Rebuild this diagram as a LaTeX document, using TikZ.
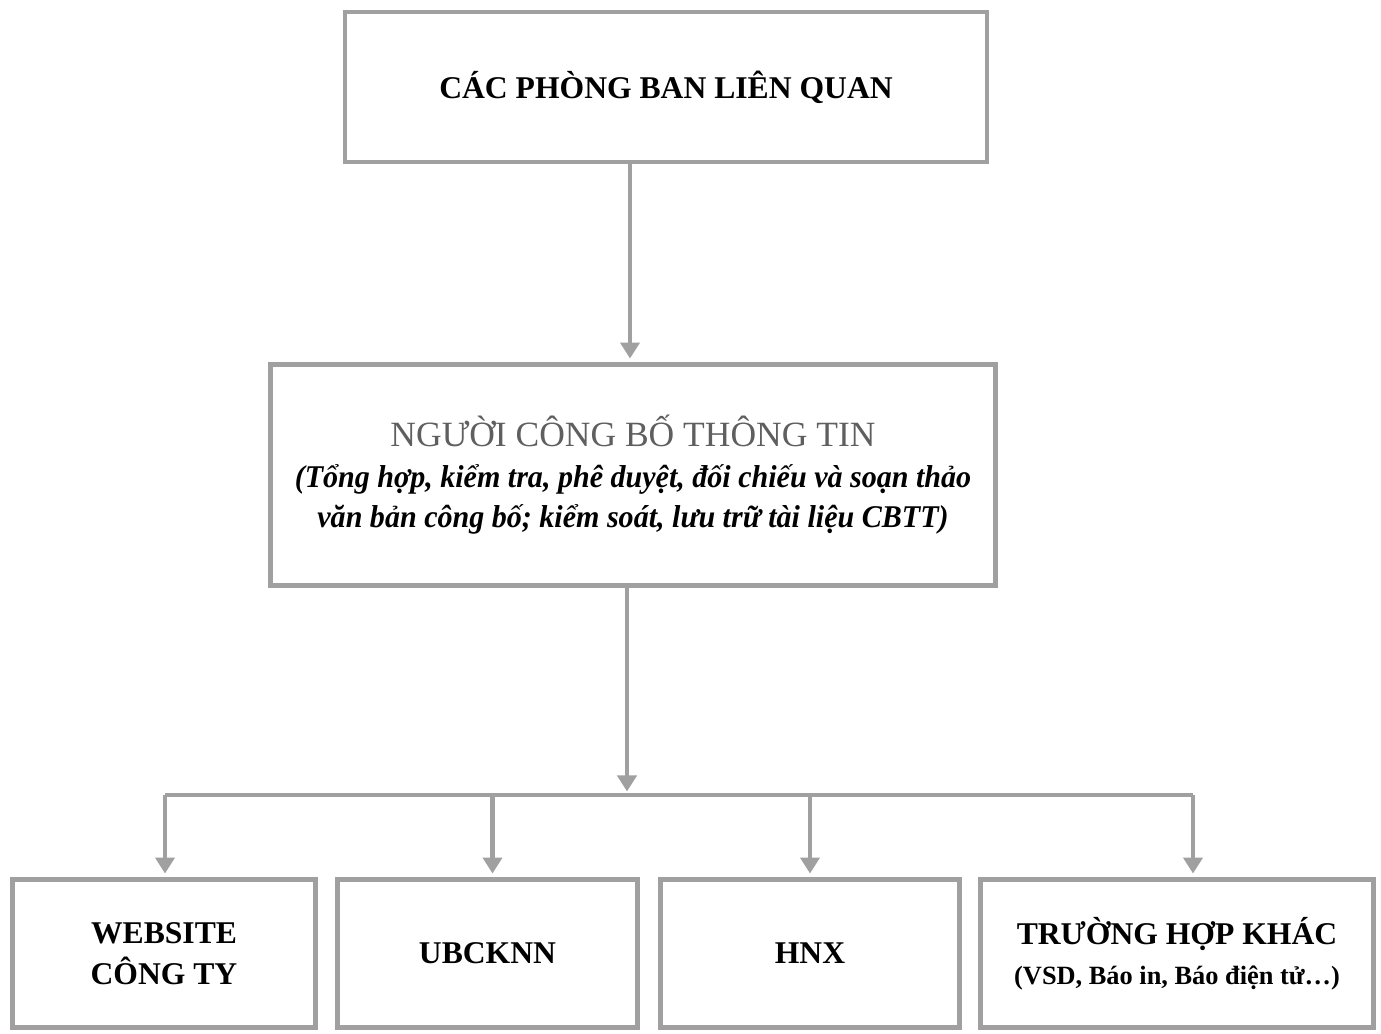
\documentclass[tikz,border=0pt]{standalone}
\usepackage{fontspec}
\setmainfont{Liberation Serif}
\newfontfamily\narrowserif[FakeStretch=0.95]{Liberation Serif}
\usetikzlibrary{arrows.meta,positioning}

\definecolor{linegray}{RGB}{160,160,160}
\definecolor{headgray}{RGB}{95,95,95}

\tikzset{
  box/.style={draw=linegray, line width=2.8pt, fill=white, align=center,
    inner sep=2pt, font=\fontsize{18}{23}\selectfont\bfseries},
  arr/.style={draw=linegray, line width=2.8pt,
    -{Triangle[width=0.38cm,length=0.32cm]}, shorten >=2pt},
  bus/.style={draw=linegray, line width=2.8pt}
}

\begin{document}
\begin{tikzpicture}

\useasboundingbox (0,0) rectangle (27.62,-20.68);

\node[box, minimum width=12.84cm, minimum height=3.0cm] (phongban) at (13.32,-1.74) {CÁC PHÒNG BAN LIÊN QUAN};

\node[box, minimum width=14.5cm, minimum height=4.42cm, font=\fontsize{18}{23}\selectfont] (nguoicbtt) at (12.66,-9.5)
  {{\fontsize{20.2}{23}\selectfont\textcolor{headgray}{NGƯỜI CÔNG BỐ THÔNG TIN}}\\
   {\narrowserif\bfseries\itshape (Tổng hợp, kiểm tra, phê duyệt, đối chiếu và soạn thảo}\\
   {\narrowserif\bfseries\itshape văn bản công bố; kiểm soát, lưu trữ tài liệu CBTT)}};

\node[box, minimum width=6.06cm, minimum height=2.96cm] (website) at (3.28,-19.07) {WEBSITE\\CÔNG TY};
\node[box, minimum width=6.0cm, minimum height=2.96cm] (ubck) at (9.75,-19.07) {UBCKNN};
\node[box, minimum width=5.98cm, minimum height=2.96cm] (hnx) at (16.2,-19.07) {HNX};
\node[box, minimum width=7.86cm, minimum height=2.96cm] (khac) at (23.54,-19.07)
  {TRƯỜNG HỢP KHÁC\\{\fontsize{15}{19}\selectfont (VSD, Báo in, Báo điện tử\ldots)}};

\coordinate (busmid) at (12.54,-15.9);
\coordinate (busL) at (3.3,-15.9);
\coordinate (busR) at (23.86,-15.9);

\draw[arr] (phongban.south -| 12.6,0) -- (nguoicbtt.north -| 12.6,0);
\draw[arr] (nguoicbtt.south -| busmid) -- (busmid);
\draw[bus] (busL) -- (busR);
\draw[arr] (busL) -- (website.north -| busL);
\draw[arr] (ubck.north |- busL) ++(0.1,0) coordinate (ubtop) -- (ubtop |- ubck.north);
\draw[arr] (hnx.north |- busL) -- (hnx.north);
\draw[arr] (busR) -- (khac.north -| busR);

\end{tikzpicture}
\end{document}
